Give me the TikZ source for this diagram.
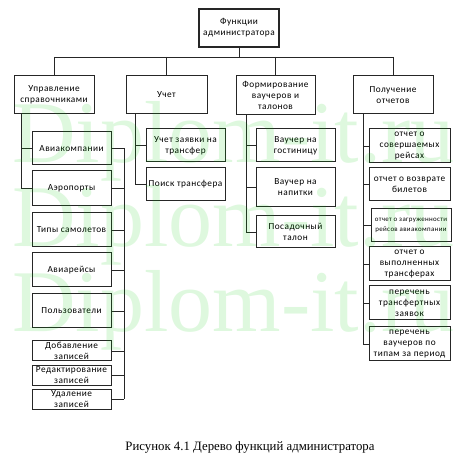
\documentclass[tikz,border=0pt]{standalone}
\usepackage{fontspec}
\setmainfont{Carlito}[LetterSpace=5]
\newfontfamily\capfont{Liberation Serif}
\newfontfamily\wmfont{Liberation Serif}
\begin{document}
\begin{tikzpicture}[x=1pt,y=-1pt,
  box/.style={draw=black!85,line width=1pt,fill=white,inner sep=0pt,align=center,
    font=\fontsize{9.3}{11}\selectfont},
  topbox/.style={box,line width=1.6pt},
  conn/.style={draw=black!85,line width=0.9pt},
  wm/.style={text=green!80!black,opacity=0.13,font=\wmfont\fontsize{88}{88}\selectfont,anchor=base west,inner sep=0pt}
]
\useasboundingbox[fill=white] (0,0) rectangle (467,460);

% top
\node[topbox,minimum width=80pt,minimum height=38pt] (top) at (239,28) {Функции\\администратора};

% level 1
\node[box,minimum width=80pt,minimum height=38pt] (u1) at (54,95) {Управление\\справочниками};
\node[box,minimum width=81pt,minimum height=38pt] (u2) at (166.5,95) {Учет};
\node[box,minimum width=79pt,minimum height=39pt] (u3) at (275.5,95.5) {Формирование\\ваучеров и\\талонов};
\node[box,minimum width=80pt,minimum height=38pt] (u4) at (393,95) {Получение\\отчетов};

\coordinate (bus) at (0,57);
\draw[conn] (top.south) -- (top.south |- bus);
\draw[conn] (u1.north |- bus) -- (u4.north |- bus);
\draw[conn] (u1.north |- bus) -- (u1.north);
\draw[conn] (u2.north |- bus) -- (u2.north);
\draw[conn] (u3.north |- bus) -- (u3.north);
\draw[conn] (u4.north |- bus) -- (u4.north);

% column 1
\node[box,minimum width=79pt,minimum height=33pt] (a1) at (71.5,148.5) {Авиакомпании};
\node[box,minimum width=79pt,minimum height=35pt] (a2) at (71.5,188.5) {Аэропорты};
\node[box,minimum width=79pt,minimum height=34pt] (a3) at (71.5,230) {Типы самолетов};
\node[box,minimum width=79pt,minimum height=34pt] (a4) at (71.5,270) {Авиарейсы};
\node[box,minimum width=79pt,minimum height=34pt] (a5) at (71.5,311) {Пользователи};
\node[box,minimum width=79pt,minimum height=20pt] (a6) at (71.5,351) {Добавление\\записей};
\node[box,minimum width=79pt,minimum height=20pt] (a7) at (71.5,375) {Редактирование\\записей};
\node[box,minimum width=79pt,minimum height=20pt] (a8) at (71.5,399) {Удаление\\записей};

\coordinate (lv) at (21,0);
\coordinate (rv) at (124,0);
\draw[conn] (u1.south -| lv) |- (a2.west);
\draw[conn] (lv |- a1.west) -- (a1.west);
\draw[conn] (rv |- a1.east) -- (rv |- a8.east);
\foreach \n in {a1,a2,a3,a4,a5,a6,a7,a8}{
  \draw[conn] (\n.east) -- (rv |- \n.east);
}

% column 2
\node[box,minimum width=79pt,minimum height=33pt] (b1) at (185.5,145.5) {Учет заявки на\\трансфер};
\node[box,minimum width=79pt,minimum height=33pt] (b2) at (185.5,184.5) {Поиск трансфера};
\coordinate (v2) at (135,0);
\draw[conn] (u2.south -| v2) |- (b2.west);
\draw[conn] (v2 |- b1.west) -- (b1.west);

% column 3
\node[box,minimum width=79pt,minimum height=33pt] (c1) at (295.5,145.5) {Ваучер на\\гостиницу};
\node[box,minimum width=79pt,minimum height=39pt] (c2) at (295.5,187.5) {Ваучер на\\напитки};
\node[box,minimum width=79pt,minimum height=32pt] (c3) at (295.5,232) {Посадочный\\талон};
\coordinate (v3) at (246,0);
\draw[conn] (u3.south -| v3) |- (c3.west);
\draw[conn] (v3 |- c1.west) -- (c1.west);
\draw[conn] (v3 |- c2.west) -- (c2.west);

% column 4
\node[box,minimum width=81pt,minimum height=34pt] (d1) at (409.5,146) {отчет о\\совершаемых\\рейсах};
\node[box,minimum width=81pt,minimum height=33pt] (d2) at (409.5,184.5) {отчет о возврате\\билетов};
\node[box,minimum width=80pt,minimum height=33pt,font=\fontsize{6.9}{10}\selectfont] (d3) at (411,225.5) {отчет о загруженности\\рейсов авиакомпании};
\node[box,minimum width=81pt,minimum height=34pt] (d4) at (409.5,264) {отчет о\\выполненных\\трансферах};
\node[box,minimum width=81pt,minimum height=34pt] (d5) at (409.5,303) {перечень\\трансфертных\\заявок};
\node[box,minimum width=81pt,minimum height=34pt] (d6) at (409.5,344) {перечень\\ваучеров по\\типам за период};
\coordinate (v4) at (363,0);
\draw[conn] (u4.south -| v4) |- (d6.west);
\foreach \n in {d1,d2,d3,d4,d5}{
  \draw[conn] (v4 |- \n.west) -- (\n.west);
}

% caption
\node[font=\capfont\fontsize{12.8}{14}\selectfont,inner sep=0pt] (cap) at (250,447) {Рисунок 4.1 Дерево функций администратора};

% watermark
\node[wm] (w1) at (12,163) {Diplom-it.ru};
\node[wm] (w2) at (12,247) {Diplom-it.ru};
\node[wm] (w3) at (12,331) {Diplom-it.ru};
\end{tikzpicture}
\end{document}
